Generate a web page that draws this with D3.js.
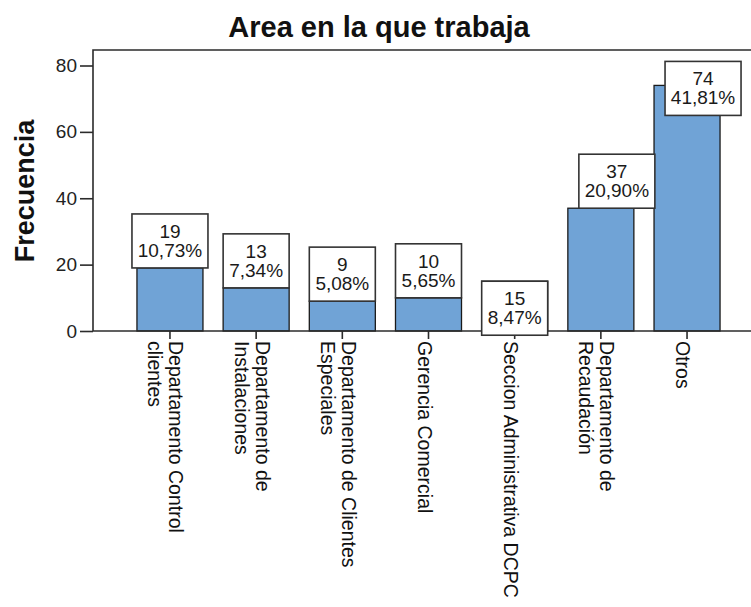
<!DOCTYPE html>
<html>
<head>
<meta charset="utf-8">
<script src="https://cdn.jsdelivr.net/npm/d3@7"></script>
<style>
  html, body { margin: 0; padding: 0; background: #fff; }
  svg { display: block; font-family: Arial, "Liberation Sans", sans-serif; }
</style>
</head>
<body>
<script>
// Frequency of respondents by work area
const title = "Area en la que trabaja";
const yTitle = "Frecuencia";
const categories = [
  "Departamento Control\nclientes",
  "Departamento de\nInstalaciones",
  "Departamento de Clientes\nEspeciales",
  "Gerencia Comercial",
  "Seccion Administrativa DCPC",
  "Departamento de\nRecaudación",
  "Otros"
];
const counts = [19, 13, 9, 10, 15, 37, 74];
const yTicks = [0, 20, 40, 60, 80];

const W = 751, H = 607;
const plot = { left: 93, top: 50, right: 764, bottom: 331 };
const total = d3.sum(counts);
const pct = v => (v / total * 100).toFixed(2).replace(".", ",") + "%";

const svg = d3.select("body").append("svg")
  .attr("width", W).attr("height", H);

const x = d3.scaleBand()
  .domain(categories)
  .range([plot.left, plot.right])
  .paddingInner(0.234)
  .paddingOuter(0.51);

const y = d3.scaleLinear()
  .domain([0, 80])
  .range([plot.bottom, 65.5]);

const ink = "#2b2b2b";

// title
svg.append("text")
  .attr("x", 379).attr("y", 37)
  .attr("text-anchor", "middle")
  .attr("font-size", 29).attr("font-weight", "bold")
  .attr("fill", "#111")
  .text(title);

// y axis title
svg.append("text")
  .attr("transform", "translate(34,191) rotate(-90)")
  .attr("text-anchor", "middle")
  .attr("font-size", 27).attr("font-weight", "bold")
  .attr("fill", "#111")
  .text(yTitle);

// bars
svg.append("g").selectAll("rect")
  .data(categories)
  .join("rect")
  .attr("x", d => x(d))
  .attr("y", (d, i) => y(counts[i]))
  .attr("width", x.bandwidth())
  .attr("height", (d, i) => y(0) - y(counts[i]))
  .attr("fill", "#70a3d6")
  .attr("stroke", "#1a1a1a")
  .attr("stroke-width", 1.3);

// frame (left and top edges)
svg.append("path")
  .attr("d", `M${plot.left},${plot.bottom}V${plot.top}H${plot.right}`)
  .attr("fill", "none").attr("stroke", ink).attr("stroke-width", 1.6);

// y axis
const yAxis = svg.append("g")
  .attr("transform", `translate(${plot.left},0)`)
  .call(d3.axisLeft(y).tickValues(yTicks).tickSize(13).tickPadding(3));
yAxis.select(".domain").remove();
yAxis.selectAll(".tick line").attr("stroke", ink).attr("stroke-width", 1.6);
yAxis.selectAll(".tick text")
  .attr("font-size", 19).attr("fill", "#222")
  .attr("font-family", "Arial, 'Liberation Sans', sans-serif");

// x axis
const xAxis = svg.append("g")
  .attr("transform", `translate(0,${plot.bottom})`)
  .call(d3.axisBottom(x).tickSize(8).tickFormat(""));
xAxis.select(".domain").attr("d", `M${plot.left},0H${plot.right}`)
  .attr("stroke", ink).attr("stroke-width", 1.6);
xAxis.selectAll(".tick line").attr("stroke", ink).attr("stroke-width", 1.6);

// category labels, rotated to read downward
const catG = svg.append("g").selectAll("g")
  .data(categories)
  .join("g")
  .attr("transform", d => `translate(${x(d) + x.bandwidth() / 2},${plot.bottom + 10}) rotate(90)`);
catG.each(function(d) {
  const lines = d.split("\n");
  const n = lines.length;
  d3.select(this).selectAll("text")
    .data(lines)
    .join("text")
    .attr("x", 0)
    .attr("y", (l, j) => 4 + (j - (n - 1) / 2) * 21)
    .attr("dominant-baseline", "central")
    .attr("font-size", 19.5).attr("fill", "#111")
    .text(l => l);
});

// value labels: count and share in a framed box
const boxH = 54;
const labels = svg.append("g");
categories.forEach((c, i) => {
  const v = counts[i];
  const lines = [String(v), pct(v)];
  const g = labels.append("g");
  const t = g.selectAll("text").data(lines).join("text")
    .attr("text-anchor", "middle")
    .attr("font-size", 19).attr("fill", "#1a1a1a")
    .text(l => l);
  const tw = d3.max(t.nodes(), n => n.getComputedTextLength());
  const bw = Math.round(tw + 12);
  let cx = x(c) + x.bandwidth() / 2;
  let top = y(v) - boxH;
  // labels that would collide with the frame or neighbouring bars are shifted
  if (i === 4) top = y(v);
  if (i === 5) cx += 16;
  if (i === 6) { cx += 16; top = y(v) - 24; }
  g.insert("rect", "text")
    .attr("x", cx - bw / 2).attr("y", top)
    .attr("width", bw).attr("height", boxH)
    .attr("fill", "#fff").attr("stroke", "#333").attr("stroke-width", 1.6);
  t.attr("x", cx).attr("y", (l, j) => top + 24 + j * 19);
});
</script>
</body>
</html>
